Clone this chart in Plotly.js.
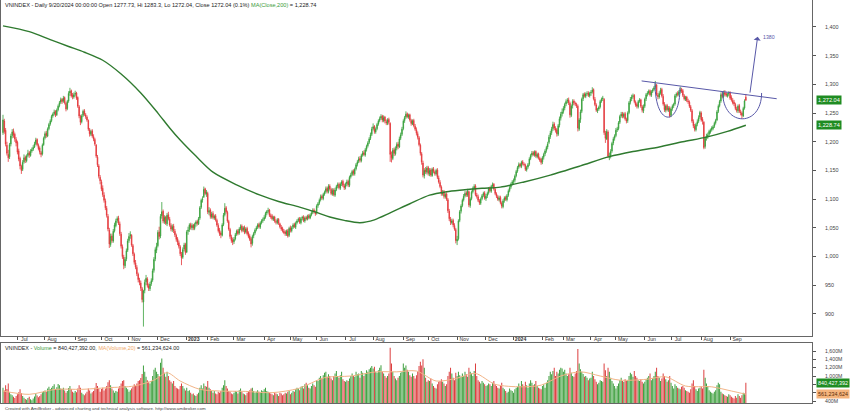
<!DOCTYPE html>
<html><head><meta charset="utf-8">
<script src="https://cdn.plot.ly/plotly-3.0.1.min.js"></script>
<style>html,body{margin:0;padding:0;background:#fff;}#chart{width:850px;height:413px;}</style>
</head><body><div id="chart"></div>
<script>
// VNINDEX daily, 16 Jun 2022 - 20 Sep 2024 (trading-day index 0..566)
const opens = [
1216,1236,1220,1194,1178,1174,1196,1211,1219,1213,1204,
1199,1184,1171,1157,1152,1165,1173,1167,1176,1181,1176,1184,1187,1191,1197,1204,1194,1189,1181,1179,1195,
1207,1215,1210,1223,1231,1237,1245,1249,1253,1247,1256,1263,1269,1274,1271,1277,1267,1258,1271,1285,1289,1281,1278,
1283,1285,1277,1261,1244,1235,1246,1254,1247,1243,1237,1221,1213,1219,1209,1204,1194,1173,1158,1138,
1130,1119,1107,1097,1084,1070,1046,1021,1036,1027,1045,1054,1063,1067,1057,1039,1017,999,984,996,1011,
1028,1036,1037,1019,1004,989,981,969,959,954,944,921,941,956,961,949,944,953,959,976,996,1011,
1019,1043,1036,1071,1079,1061,1069,1057,1073,1065,1054,1047,1053,1044,1037,1031,1024,1017,1004,999,1013,1021,
1008,1044,1047,1056,1050,1055,1049,1057,1061,1057,1067,1086,1099,1104,1118,1109,
1110,1077,1081,1069,1075,1067,1071,1063,1054,1046,1041,1037,1056,1073,1085,1077,1061,1047,1034,1029,
1026,1031,1039,1045,1041,1049,1053,1046,1051,1043,1049,1041,1036,1031,1023,1036,1041,1047,1051,1056,1051,1059,1063,
1065,1069,1076,1079,1081,1071,1071,1065,1069,1061,1059,1065,1057,1051,1049,1044,1043,1039,1045,1037,
1050,1045,1051,1056,1051,1059,1063,1066,1059,1067,1069,1062,1068,1065,1071,1067,1073,1077,1081,1077,
1076,1089,1093,1099,1105,1101,1109,1113,1119,1113,1123,1117,1109,1116,1107,1117,1123,1126,1119,1127,1131,1123,
1121,1127,1131,1124,1139,1143,1149,1144,1153,1161,1166,1171,1167,1177,1181,1177,1187,1193,1199,1206,1213,
1223,1227,1217,1223,1231,1237,1241,1245,1237,1243,1235,1232,1239,1232,1177,1171,1186,1179,1189,1196,1191,1206,1213,
1223,1237,1243,1249,1243,1247,1237,1231,1237,1227,1221,1214,1207,1194,1179,1163,1141,1151,1147,
1155,1144,1151,1141,1153,1147,1144,1151,1137,1129,1121,1109,1113,1104,1109,1099,1079,1065,1059,1063,1054,1047,
1027,1031,1063,1079,1089,1099,1106,1111,1107,1113,1089,1101,1113,1119,1123,1107,1104,1097,1093,1101,1107,1111,
1101,1106,1111,1119,1114,1123,1126,1117,1109,1104,1099,1103,1093,1087,1098,1103,1099,1107,1115,1121,1127,
1131,1133,1141,1149,1156,1161,1157,1165,1161,1159,1151,1156,1161,1171,1177,1181,1177,1183,1174,1179,1171,1169,
1165,1173,1179,1185,1191,1199,1209,1216,1223,1231,1223,1221,1213,1229,1241,1249,
1253,1259,1266,1271,1273,1267,1246,1263,1271,1267,1265,1262,1222,1239,1253,1275,1283,1279,1284,1285,1280,
1285,1287,1291,1274,1264,1254,1257,1261,1271,1275,1274,1215,1205,1217,1173,1175,1184,1198,1206,
1211,1221,1223,1234,1245,1249,1244,1249,1239,1237,1251,1269,1275,1279,1281,1269,1265,1261,1271,1273,1261,1254,
1262,1275,1283,1285,1289,1281,1288,1291,1295,1299,1281,1278,1285,1291,1279,1265,1255,1263,1255,1259,
1246,1258,1263,1266,1281,1284,1282,1288,1291,1289,1280,1274,1278,1271,1269,1261,1254,1235,1227,1221,1231,1236,1243,
1250,1239,1234,1192,1207,1209,1213,1217,1221,1223,1227,1233,1238,1253,1263,1271,1283,1278,1286,1284,1280,1283,
1285,1277,1272,1269,1265,1257,1254,1263,1252,1250,1245,1259,1277.73];
const highs = [
1247,1240,1224,1200,1186,1198,1214,1222,1223,1216,1208,
1202,1188,1174,1160,1168,1178,1176,1178,1186,1184,1187,1190,1194,1200,1207,1206,1197,1192,1184,1197,1209,
1218,1219,1225,1233,1239,1247,1251,1256,1255,1258,1265,1271,1277,1276,1280,1279,1270,1273,1288,1294,1291,1285,1286,
1289,1287,1279,1264,1247,1248,1256,1257,1250,1246,1239,1224,1221,1222,1213,1207,1196,1177,1161,1142,
1134,1124,1112,1101,1088,1074,1050,1040,1040,1048,1059,1066,1070,1071,1061,1043,1021,1003,999,1014,1031,
1041,1044,1039,1022,1007,994,985,972,963,958,947,942,960,968,964,953,956,962,979,999,1016,1024,
1046,1052,1074,1095,1082,1072,1071,1076,1078,1069,1058,1056,1057,1048,1040,1034,1028,1020,1008,1016,1024,1024,
1046,1052,1058,1059,1058,1057,1059,1063,1064,1069,1088,1101,1105,1122,1120,1116,
1113,1086,1084,1078,1079,1073,1074,1066,1058,1050,1044,1058,1076,1093,1088,1080,1064,1050,1038,1033,
1034,1041,1047,1048,1051,1056,1056,1053,1054,1051,1052,1044,1039,1034,1038,1043,1049,1053,1058,1059,1061,1065,1068,
1072,1078,1081,1085,1083,1075,1074,1071,1071,1065,1067,1067,1059,1055,1052,1048,1046,1047,1048,1052,
1054,1053,1058,1059,1061,1065,1068,1069,1069,1071,1072,1070,1071,1073,1074,1075,1079,1084,1084,1080,
1091,1095,1101,1108,1108,1111,1115,1122,1122,1126,1126,1120,1119,1119,1120,1125,1129,1129,1129,1133,1134,1127,
1129,1134,1134,1141,1146,1151,1152,1155,1163,1168,1174,1175,1179,1184,1185,1189,1195,1201,1208,1216,1226,
1232,1229,1225,1233,1239,1244,1248,1247,1246,1245,1239,1241,1242,1234,1183,1189,1190,1192,1199,1200,1209,1216,1226,
1239,1245,1253,1251,1249,1249,1240,1239,1240,1231,1225,1218,1210,1197,1182,1167,1154,1156,1158,
1158,1154,1154,1155,1156,1150,1153,1154,1141,1133,1124,1116,1116,1111,1112,1102,1083,1069,1066,1066,1058,1050,
1036,1065,1081,1091,1101,1109,1114,1114,1118,1115,1103,1115,1122,1126,1126,1111,1108,1100,1103,1109,1113,1114,
1109,1113,1121,1122,1125,1129,1128,1120,1112,1107,1106,1106,1096,1100,1105,1106,1109,1117,1123,1129,1133,
1136,1143,1151,1158,1164,1163,1167,1168,1164,1162,1158,1163,1173,1179,1184,1184,1185,1185,1181,1181,1174,1172,
1175,1181,1187,1193,1200,1212,1219,1226,1235,1234,1227,1224,1231,1244,1252,1258,
1262,1268,1274,1276,1277,1270,1265,1274,1274,1270,1268,1265,1241,1256,1277,1285,1286,1286,1288,1288,1287,
1290,1295,1293,1278,1267,1259,1263,1273,1277,1280,1276,1219,1222,1220,1181,1187,1200,1208,1213,
1224,1226,1236,1247,1252,1252,1251,1252,1242,1253,1271,1278,1282,1284,1283,1272,1268,1273,1276,1275,1264,1265,
1277,1285,1288,1291,1291,1290,1293,1297,1306,1301,1285,1288,1294,1294,1283,1269,1265,1266,1262,1262,
1260,1265,1268,1283,1286,1288,1290,1296,1294,1292,1283,1280,1280,1275,1272,1264,1257,1239,1231,1233,1239,1246,1254,
1253,1243,1236,1209,1214,1216,1221,1223,1227,1229,1235,1240,1255,1265,1273,1286,1287,1289,1290,1287,1285,1288,
1288,1281,1276,1273,1268,1261,1265,1266,1256,1253,1261,1274,1283.3];
const lows = [
1212,1214,1192,1176,1165,1170,1192,1206,1207,1200,1192,
1178,1166,1152,1144,1149,1162,1163,1164,1173,1172,1174,1181,1184,1189,1194,1192,1185,1178,1173,1176,1193,
1204,1207,1208,1220,1228,1234,1242,1246,1243,1245,1253,1260,1266,1266,1268,1265,1253,1255,1268,1280,1277,1274,1275,
1279,1273,1259,1241,1229,1232,1243,1245,1240,1235,1219,1209,1210,1207,1201,1193,1172,1156,1136,1126,
1114,1104,1094,1081,1068,1044,1015,1017,1024,1024,1042,1051,1059,1055,1036,1014,996,978,980,992,1008,
1024,1031,1017,1001,986,978,966,955,950,940,920,878,936,950,946,940,940,949,956,972,992,1006,
1016,1030,1032,1066,1058,1057,1055,1053,1063,1052,1044,1043,1041,1034,1026,1020,1014,1001,985,996,1009,1003,
1006,1038,1043,1047,1046,1046,1046,1052,1054,1055,1064,1083,1094,1102,1107,1104,
1074,1072,1066,1066,1065,1064,1061,1052,1042,1036,1032,1035,1053,1070,1075,1059,1045,1031,1024,1020,
1022,1028,1036,1037,1038,1046,1042,1043,1039,1040,1037,1032,1027,1016,1019,1032,1038,1044,1048,1049,1048,1056,1059,
1062,1066,1072,1075,1069,1066,1063,1062,1059,1056,1056,1055,1049,1045,1042,1039,1036,1036,1033,1034,
1042,1042,1048,1050,1048,1056,1060,1057,1056,1063,1060,1059,1063,1063,1065,1065,1070,1074,1075,1071,
1073,1085,1090,1096,1099,1098,1106,1110,1110,1110,1115,1107,1106,1105,1104,1114,1119,1117,1116,1123,1121,1116,
1117,1123,1121,1121,1136,1140,1141,1141,1150,1157,1163,1164,1164,1174,1175,1174,1183,1190,1196,1203,1210,
1220,1214,1214,1220,1228,1234,1238,1234,1234,1232,1229,1229,1230,1165,1164,1168,1175,1176,1185,1187,1189,1203,1210,
1220,1233,1240,1241,1240,1235,1228,1229,1225,1219,1211,1204,1192,1176,1160,1138,1136,1144,1143,
1141,1140,1139,1139,1145,1141,1141,1135,1127,1119,1106,1106,1101,1101,1097,1076,1062,1055,1056,1051,1045,1023,
1020,1028,1060,1075,1086,1096,1103,1104,1104,1086,1085,1098,1110,1115,1105,1101,1095,1090,1090,1098,1104,1099,
1097,1102,1108,1112,1111,1119,1115,1107,1102,1097,1096,1091,1084,1084,1094,1097,1096,1104,1112,1118,1124,
1126,1129,1138,1146,1153,1155,1154,1159,1157,1149,1148,1153,1158,1168,1174,1175,1174,1172,1171,1169,1165,1160,
1161,1169,1175,1181,1187,1196,1205,1212,1219,1220,1216,1209,1210,1225,1237,1244,
1249,1255,1262,1267,1264,1242,1243,1258,1264,1262,1259,1218,1219,1233,1250,1271,1277,1276,1280,1278,1277,
1280,1284,1272,1262,1252,1250,1254,1258,1268,1271,1212,1198,1203,1172,1168,1171,1181,1194,1202,
1208,1217,1220,1231,1242,1241,1241,1237,1232,1233,1248,1265,1271,1275,1267,1261,1258,1258,1268,1259,1251,1250,
1259,1271,1279,1282,1279,1278,1285,1288,1292,1280,1274,1275,1282,1277,1263,1252,1251,1253,1252,1242,
1243,1254,1259,1263,1277,1279,1279,1284,1285,1278,1272,1271,1269,1266,1259,1252,1233,1224,1218,1218,1227,1233,1240,
1235,1230,1187,1188,1202,1205,1210,1214,1218,1220,1224,1230,1236,1250,1260,1268,1276,1275,1280,1278,1277,1279,
1273,1270,1265,1262,1255,1251,1250,1250,1246,1240,1243,1256,1272.04];
const closes = [
1238,1218,1196,1180,1172,1195,1210,1217,1212,1205,1198,
1182,1170,1158,1150,1164,1172,1168,1175,1180,1177,1183,1186,1190,1196,1203,1195,1188,1182,1178,1194,1206,
1214,1211,1222,1230,1236,1244,1248,1252,1246,1255,1262,1268,1273,1270,1276,1268,1257,1270,1284,1288,1280,1279,1282,
1284,1276,1262,1245,1234,1245,1253,1248,1244,1238,1222,1214,1218,1210,1205,1196,1175,1160,1140,1132,
1118,1108,1098,1085,1072,1048,1022,1035,1028,1044,1055,1062,1066,1058,1040,1018,1000,985,995,1010,1027,
1035,1038,1020,1005,990,982,970,960,955,945,925,940,955,962,950,945,952,958,975,995,1012,1018,
1042,1035,1070,1078,1062,1068,1058,1072,1066,1055,1048,1052,1045,1038,1030,1025,1018,1005,998,1012,1020,1007,
1043,1046,1055,1051,1054,1050,1056,1060,1058,1066,1085,1098,1100,1117,1110,1112,
1078,1080,1070,1074,1068,1070,1064,1055,1045,1040,1038,1055,1072,1084,1078,1062,1048,1035,1028,1025,
1030,1038,1044,1040,1048,1052,1045,1050,1042,1048,1040,1035,1030,1022,1035,1040,1046,1050,1055,1052,1058,1062,1064,
1068,1075,1078,1080,1072,1070,1066,1068,1062,1060,1064,1058,1052,1048,1045,1042,1040,1044,1036,1049,
1046,1050,1055,1052,1058,1062,1065,1060,1066,1068,1063,1067,1066,1070,1068,1072,1076,1080,1078,1075,
1088,1092,1098,1104,1102,1108,1112,1118,1114,1122,1118,1110,1115,1108,1116,1122,1125,1120,1126,1130,1124,1120,
1126,1130,1125,1138,1142,1148,1145,1152,1160,1165,1170,1168,1176,1180,1178,1186,1192,1198,1205,1212,1222,
1226,1218,1222,1230,1236,1240,1244,1238,1242,1236,1233,1238,1234,1178,1172,1185,1180,1188,1195,1192,1205,1212,1222,
1236,1242,1248,1244,1246,1238,1232,1236,1228,1222,1215,1208,1195,1180,1165,1142,1150,1148,1154,
1145,1150,1142,1152,1148,1145,1150,1138,1130,1122,1110,1112,1105,1108,1100,1080,1066,1060,1062,1055,1048,1028,
1030,1062,1078,1088,1098,1105,1110,1108,1114,1090,1100,1112,1118,1122,1108,1105,1098,1094,1100,1106,1110,1102,
1105,1110,1118,1115,1122,1125,1118,1110,1105,1100,1102,1094,1088,1097,1102,1100,1106,1114,1120,1126,1130,
1132,1140,1148,1155,1160,1158,1164,1162,1160,1152,1155,1160,1170,1176,1180,1178,1182,1175,1178,1172,1168,1164,
1172,1178,1184,1190,1196,1208,1215,1222,1230,1224,1220,1214,1228,1240,1248,1252,
1258,1265,1270,1272,1268,1247,1262,1270,1268,1266,1263,1224,1238,1252,1274,1282,1280,1283,1284,1281,1284,
1286,1290,1275,1265,1255,1256,1260,1270,1274,1276,1216,1206,1218,1175,1174,1183,1197,1205,1210,
1220,1222,1233,1244,1248,1245,1248,1240,1236,1250,1268,1274,1278,1280,1270,1264,1262,1270,1272,1262,1255,1261,
1274,1282,1284,1288,1282,1287,1290,1294,1298,1282,1279,1284,1290,1280,1266,1256,1262,1256,1258,1245,
1257,1262,1265,1280,1283,1283,1287,1290,1288,1281,1275,1277,1272,1270,1262,1255,1236,1228,1222,1230,1235,1242,1251,
1238,1236,1190,1206,1210,1212,1218,1220,1224,1226,1232,1237,1252,1262,1270,1282,1279,1285,1283,1281,1282,1284,
1276,1273,1268,1266,1258,1255,1262,1253,1251,1246,1258,1271,1272.04];
// volume, millions of shares
const volumes = [
720,650,780,690,820,610,560,540,500,470,520,
560,610,680,590,520,480,450,430,470,500,440,420,460,510,580,530,490,520,560,610,640,
650,620,700,740,690,720,760,800,680,730,810,780,700,690,720,650,600,640,710,760,690,620,600,
640,610,700,780,720,600,560,540,580,620,700,650,580,610,640,720,830,760,700,620,
690,720,650,700,760,850,900,780,700,650,600,640,620,700,760,820,880,900,760,720,680,
620,660,700,740,800,760,820,880,900,950,1050,1250,1100,980,900,860,820,880,1000,1150,1200,1100,
1050,1000,1320,1420,1200,1080,980,1100,1000,900,860,820,880,760,720,700,680,760,820,760,700,650,
720,640,660,600,560,580,540,520,560,600,720,780,700,820,760,740,
880,720,680,640,600,640,580,560,620,600,640,720,780,900,760,700,640,620,580,560,
600,640,620,580,660,700,620,580,560,540,600,640,660,700,720,640,600,620,660,620,600,660,640,
680,720,640,620,600,580,560,540,600,580,560,520,600,580,540,560,600,580,620,640,
560,600,640,620,680,720,700,660,740,760,700,800,840,780,720,700,760,820,780,740,
900,880,960,1000,940,1020,1080,1100,980,1040,1000,940,900,1000,1060,1120,1000,960,1020,1100,920,880,
860,900,880,940,1000,1060,1000,980,1100,1040,1060,960,1120,1080,1000,1060,1140,1100,1160,1200,1240,
1180,1220,1100,1080,1140,1200,1260,1100,1060,1000,960,1000,1060,1680,1300,1100,1000,940,900,960,1000,1080,1100,
1300,1200,1250,1150,1100,1020,980,1060,1000,940,1020,1100,1240,1340,1250,1400,1200,960,860,
900,880,940,820,760,720,700,800,860,880,920,860,820,760,800,1000,1100,1200,1060,960,900,1080,
1000,1100,1020,980,1060,1000,1100,1040,980,1200,1100,1060,1000,1120,1300,1000,900,860,820,880,840,800,
760,780,820,800,760,840,880,800,760,720,700,760,840,720,680,640,600,620,700,660,640,
600,680,720,740,820,760,880,800,760,860,780,720,820,900,840,780,800,880,760,720,700,680,
760,800,720,840,900,1000,1100,1040,1120,1200,1000,1100,1060,1150,1200,1180,
1100,1150,1060,1000,1040,1200,1080,1000,980,1060,1120,1650,1300,1160,1100,1050,980,1000,960,900,940,
960,1100,1000,920,860,800,840,900,880,860,1300,1140,1000,1200,1100,960,880,820,760,
700,760,820,900,960,880,860,920,880,900,1000,1080,1040,980,1120,1000,960,900,880,920,860,820,
860,920,960,1000,1060,900,940,1000,1100,1200,1000,960,880,940,1060,1000,920,860,900,1000,
840,760,700,800,760,720,700,680,740,760,720,660,640,620,600,680,820,900,760,680,640,700,720,
740,700,1150,960,820,760,660,620,600,580,620,660,780,840,800,620,580,560,540,520,500,560,
540,500,480,460,520,480,560,520,480,540,600,580,840.427392];
// MA(Close,200): trading-day index and value
const ma200Idx = [0,20,36,50,62,76,90,105,118,127,135,147,160,178,196,210,226,240,249,260,272,283,295,310,325,338,350,365,379,397,417,440,462,480,500,518,536,552,566];
const ma200Val = [1402,1392,1378,1366,1356,1342,1318,1285,1250,1224,1203,1175,1147,1125,1107,1096,1086,1076,1069,1063,1059,1064,1076,1092,1107,1113,1116,1119,1121,1130,1142,1158,1174,1183,1191,1200,1208,1218,1228.74];
// MA(Volume,20), millions
const volMaIdx = [0,20,40,60,80,100,115,125,135,150,165,185,205,225,245,265,285,300,315,330,345,360,375,395,410,425,440,455,470,490,505,520,540,555,566];
const volMaVal = [640,560,680,680,720,760,900,1080,880,680,640,630,600,700,960,1000,1100,1100,1120,880,940,1060,800,740,780,1000,1100,1000,900,920,980,760,740,640,561.234624];
// axis ticks
const monthTickIdx = [11,32,55,75,96,118,140,156,176,199,219,239,261,282,305,324,346,368,389,411,427,448,467,489,509,532,554];
const monthTickText = ['Jul','Aug','Sep','Oct','Nov','Dec','<b>2023</b>','Feb','Mar','Apr','May','Jun','Jul','Aug','Sep','Oct','Nov','Dec','<b>2024</b>','Feb','Mar','Apr','May','Jun','Jul','Aug','Sep'];
const priceTicks = [900,950,1000,1050,1100,1150,1200,1250,1300,1350,1400];
const volTicks = [400,600,800,1000,1200,1400,1600];
const volTicksHidden = [600,800]; // covered by the value boxes in the chart
// hand-drawn pattern (cup & handle) in chart coordinates
const neckIdx = [486.6, 589.5], neckPrice = [1306, 1275];
const cupLeftIdx = [496.8, 515.8], cupLeftPrice = [1302, 1243, 1294];
const cupRightIdx = [548.3, 578], cupRightPrice = [1287, 1240, 1285];
const arrowIdx = [569, 575], arrowPrice = [1283, 1383];
const targetLabel = '1380';

const idx = closes.map((_, i) => i);
const n = closes.length;
const fmt = (v, d) => v.toLocaleString('en-US', {minimumFractionDigits: d, maximumFractionDigits: d});
const GREEN = '#36a03a', RED = '#e3363a', BLUE = '#5858a8';
const volColors = closes.map((c, i) => c >= opens[i] ? '#3c9e3c' : '#dc3c3c');

function cupPath(xs, ys) {
  const [x0, x1] = xs, [y0, yb, y1] = ys;
  const yc = (yb - (y0 + y1) / 8) / 0.75;
  return `M${x0},${y0} C${x0},${yc} ${x1},${yc} ${x1},${y1}`;
}

const traces = [
  {type:'candlestick', x:idx, open:opens, high:highs, low:lows, close:closes, xaxis:'x', yaxis:'y',
   increasing:{line:{color:GREEN, width:0.8}, fillcolor:GREEN},
   decreasing:{line:{color:RED, width:0.8}, fillcolor:RED}, whiskerwidth:0, hoverinfo:'skip'},
  {type:'scatter', mode:'lines', x:ma200Idx, y:ma200Val, line:{color:'#2f7a2f', width:1.4, shape:'spline', smoothing:0.8}, xaxis:'x', yaxis:'y', hoverinfo:'skip'},
  {type:'scatter', mode:'lines', x:neckIdx, y:neckPrice, line:{color:BLUE, width:1}, xaxis:'x', yaxis:'y', hoverinfo:'skip'},
  {type:'bar', x:idx, y:volumes, marker:{color:volColors, line:{width:0}}, xaxis:'x2', yaxis:'y2', hoverinfo:'skip'},
  {type:'scatter', mode:'lines', x:volMaIdx, y:volMaVal, line:{color:'#f2b487', width:1, shape:'spline', smoothing:0.8}, xaxis:'x2', yaxis:'y2', hoverinfo:'skip'}
];

const lastO = opens[n-1], lastH = highs[n-1], lastL = lows[n-1], lastC = closes[n-1];
const chg = (lastC / closes[n-2] - 1) * 100;
const maLast = ma200Val[ma200Val.length-1];
const FONT = 'Liberation Sans, Arial, sans-serif';
const xr = [-1.52, 616.4];

const annotations = [
  {xref:'paper', yref:'paper', x:0.002, y:0.999, xanchor:'left', yanchor:'top', showarrow:false,
   font:{family:FONT, size:5.6, color:'#222'},
   text:`VNINDEX - Daily 9/20/2024 00:00:00 Open ${lastO}, Hi ${lastH}, Lo ${lastL}, Close ${lastC} (${chg.toFixed(1)}%) <span style="color:#3a9a3a">MA(Close,200)</span> = ${fmt(maLast,2)}`},
  {xref:'paper', yref:'paper', x:0.002, y:(413-347.5)/413, xanchor:'left', yanchor:'middle', showarrow:false,
   font:{family:FONT, size:5.4, color:'#222'},
   text:`VNINDEX - <span style="color:#3a9a3a">Volume</span> = ${fmt(volumes[n-1]*1e6,2)}, <span style="color:#f0a868">MA(Volume,20)</span> = ${fmt(volMaVal[volMaVal.length-1]*1e6,2)}`},
  {xref:'paper', yref:'paper', x:0.002, y:(413-408.5)/413, xanchor:'left', yanchor:'middle', showarrow:false,
   font:{family:FONT, size:4.4, color:'#444'},
   text:'Created with AmiBroker - advanced charting and technical analysis software. http://www.amibroker.com'},
  {xref:'paper', yref:'y', x:1, y:lastC, xanchor:'left', xshift:4, showarrow:false, bgcolor:'#1f8c22', borderpad:1,
   font:{family:FONT, size:5.6, color:'#fff'}, text:fmt(lastC,2)},
  {xref:'paper', yref:'y', x:1, y:maLast, xanchor:'left', xshift:4, showarrow:false, bgcolor:'#1f8c22', borderpad:1,
   font:{family:FONT, size:5.6, color:'#fff'}, text:fmt(maLast,2)},
  {xref:'paper', yref:'y2', x:1, y:volumes[n-1], xanchor:'left', xshift:4, showarrow:false, bgcolor:'#1f8c22', borderpad:1,
   font:{family:FONT, size:5.4, color:'#fff'}, text:fmt(Math.round(volumes[n-1]*1e6),0)},
  {xref:'paper', yref:'y2', x:1, y:volMaVal[volMaVal.length-1], xanchor:'left', xshift:4, showarrow:false, bgcolor:'#f5b47c', borderpad:1,
   font:{family:FONT, size:5.4, color:'#5a2c08'}, text:fmt(Math.round(volMaVal[volMaVal.length-1]*1e6),0)},
  {xref:'x', yref:'y', x:arrowIdx[1], y:arrowPrice[1], ax:arrowIdx[0], ay:arrowPrice[0], axref:'x', ayref:'y',
   showarrow:true, arrowhead:1, arrowsize:1.2, arrowwidth:1, arrowcolor:BLUE, text:''},
  {xref:'x', yref:'y', x:arrowIdx[1], y:arrowPrice[1], xanchor:'left', yanchor:'middle', xshift:3, showarrow:false,
   font:{family:FONT, size:5.2, color:BLUE}, text:targetLabel}
];

const shapes = [
  {type:'path', xref:'x', yref:'y', path:cupPath(cupLeftIdx, cupLeftPrice), line:{color:BLUE, width:1}},
  {type:'path', xref:'x', yref:'y', path:cupPath(cupRightIdx, cupRightPrice), line:{color:BLUE, width:1}}
];

const axisCommon = {showgrid:false, zeroline:false, showline:true, mirror:true, linecolor:'#666', linewidth:1, fixedrange:true};

const layout = {
  width:850, height:413, margin:{l:1, r:38, t:0, b:0}, paper_bgcolor:'#fff', plot_bgcolor:'#fff', showlegend:false,
  font:{family:FONT, size:6, color:'#333'},
  xaxis:Object.assign({}, axisCommon, {domain:[0,1], range:xr, anchor:'y', tickmode:'array', tickvals:monthTickIdx, ticktext:monthTickText,
    ticks:'outside', ticklen:3, tickcolor:'#555', tickfont:{family:FONT, size:5.2, color:'#333'}, ticklabelshift:7, ticklabelstandoff:-5,
    rangeslider:{visible:false}}),
  yaxis:Object.assign({}, axisCommon, {domain:[(413-336)/413, 1], range:[861.6, 1447], side:'right', anchor:'x',
    tickmode:'array', tickvals:priceTicks, ticktext:priceTicks.map(v => fmt(v,0)), ticks:'outside', ticklen:3, tickcolor:'#555',
    tickfont:{family:FONT, size:5.4, color:'#444'}, ticklabelstandoff:8}),
  xaxis2:Object.assign({}, axisCommon, {domain:[0,1], range:xr, anchor:'y2', showticklabels:false, ticks:''}),
  yaxis2:Object.assign({}, axisCommon, {domain:[(413-403)/413, (413-343)/413], range:[352, 1792], side:'right', anchor:'x2',
    tickmode:'array', tickvals:volTicks, ticktext:volTicks.map(v => volTicksHidden.includes(v) ? '' : fmt(v,0)+'M'), ticks:'outside', ticklen:3, tickcolor:'#555',
    tickfont:{family:FONT, size:5.2, color:'#444'}, ticklabelstandoff:8}),
  bargap:0.25, boxgap:0.35,
  annotations, shapes
};

Plotly.newPlot('chart', traces, layout, {staticPlot:true, displayModeBar:false});
</script>
</body></html>
